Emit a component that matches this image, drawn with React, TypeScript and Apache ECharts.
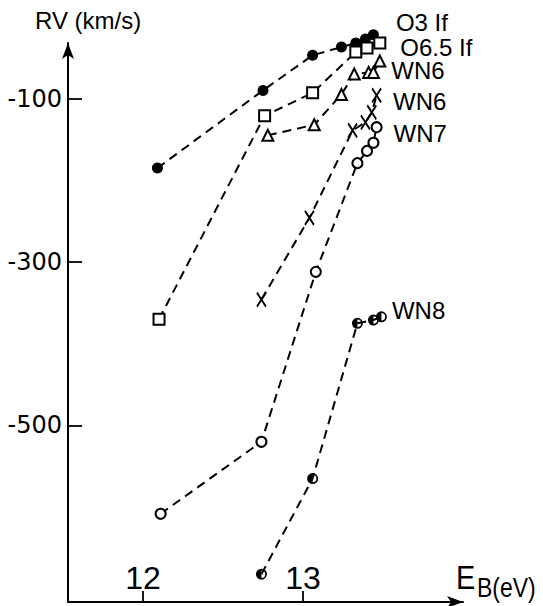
import React, { useEffect, useRef } from 'react';
import * as echarts from 'echarts';

// Data (E_B in eV, RV in km/s)
const o3IfE = [12.09, 12.75, 13.06, 13.24, 13.33, 13.39, 13.44];
const o3IfRV = [-185, -90, -47, -37, -32, -27, -22];
const o65IfE = [12.10, 12.76, 13.06, 13.33, 13.40, 13.48];
const o65IfRV = [-370, -121, -93, -43, -38, -32];
const wn6aE = [12.78, 13.07, 13.24, 13.32, 13.41, 13.44, 13.48];
const wn6aRV = [-145, -132, -95, -70, -68, -68, -54];
const wn6bE = [12.74, 13.04, 13.31, 13.39, 13.43, 13.46];
const wn6bRV = [-346, -246, -139, -129, -117, -96];
const wn7E = [12.11, 12.74, 13.08, 13.34, 13.40, 13.44, 13.46];
const wn7RV = [-608, -520, -312, -179, -164, -154, -135];
const wn8E = [12.74, 13.06, 13.34, 13.44, 13.49];
const wn8RV = [-682, -565, -375, -371, -367];
const seriesNames = ['O3 If', 'O6.5 If', 'WN6', 'WN6', 'WN7', 'WN8'];
const xTicks = [12, 13];
const yTicks = [-100, -300, -500];
const xTitleMain = 'E';
const xTitleSub = 'B(eV)';
const yTitle = 'RV (km/s)';

const X_PATH = 'path://M0 0L10 14M10 0L0 14';
const HALF_PATH =
  'path://M5 0A5 5 0 1 1 5 10A5 5 0 1 1 5 0ZM5 1.6A3.4 3.4 0 1 0 5 8.4A3.4 3.4 0 1 0 5 1.6ZM5 8.4A3.4 3.4 0 0 1 5 1.6Z';

const LABEL_FONT = '"Liberation Sans", Arial, sans-serif';

export default function App() {
  const ref = useRef<HTMLDivElement>(null);
  useEffect(() => {
    if (!ref.current) return;
    const chart = echarts.init(ref.current, null, { renderer: 'svg' });

    const styles = [
      { symbol: 'circle', size: 11, item: { color: '#000', borderWidth: 0 }, offset: [12, -12] },
      { symbol: 'rect', size: 11, item: { color: '#fff', borderColor: '#000', borderWidth: 2 }, offset: [9, 4] },
      { symbol: 'triangle', size: 11, item: { color: '#fff', borderColor: '#000', borderWidth: 2 }, offset: [0, 10] },
      { symbol: X_PATH, size: [9, 14], item: { color: 'none', borderColor: '#000', borderWidth: 2 }, offset: [5, 6] },
      { symbol: 'circle', size: 10, item: { color: '#fff', borderColor: '#000', borderWidth: 2 }, offset: [6, 6] },
      { symbol: HALF_PATH, size: 11, item: { color: '#000', borderWidth: 0 }, offset: [0, -6] },
    ];
    const Es = [o3IfE, o65IfE, wn6aE, wn6bE, wn7E, wn8E];
    const RVs = [o3IfRV, o65IfRV, wn6aRV, wn6bRV, wn7RV, wn8RV];

    const series = Es.map((E, s) => {
      const st = styles[s];
      const n = E.length;
      return {
        type: 'line',
        name: seriesNames[s],
        clip: false,
        symbol: st.symbol,
        symbolSize: st.size,
        showSymbol: true,
        itemStyle: st.item,
        lineStyle: { color: '#000', width: 2, type: [9, 6] },
        data: E.map((x, i) =>
          i === n - 1
            ? {
                value: [x, RVs[s][i]],
                label: {
                  show: true,
                  position: 'right',
                  distance: 5,
                  offset: st.offset,
                  formatter: seriesNames[s],
                  color: '#000',
                  fontSize: 24,
                  lineHeight: 20,
                  fontFamily: LABEL_FONT,
                },
              }
            : [x, RVs[s][i]]
        ),
      };
    });

    chart.setOption({
      animation: false,
      backgroundColor: '#fff',
      grid: { left: 68, right: 80, top: 43, bottom: 4, containLabel: false },
      xAxis: {
        type: 'value',
        min: 11.531,
        max: 14.0,
        axisLine: {
          show: true,
          symbol: ['none', 'arrow'],
          symbolSize: [9, 16],
          lineStyle: { color: '#000', width: 2 },
        },
        axisTick: { show: true, inside: true, length: 11, customValues: xTicks, lineStyle: { color: '#000', width: 1.8 } },
        axisLabel: {
          show: true,
          inside: true,
          margin: 8,
          customValues: xTicks,
          color: '#000',
          fontSize: 32,
          fontFamily: LABEL_FONT,
        },
        splitLine: { show: false },
      },
      yAxis: {
        type: 'value',
        min: -716,
        max: -32,
        axisLine: {
          show: true,
          symbol: ['none', 'arrow'],
          symbolSize: [9, 16],
          lineStyle: { color: '#000', width: 2 },
        },
        axisTick: { show: true, inside: true, length: 14, customValues: yTicks, lineStyle: { color: '#000', width: 1.8 } },
        axisLabel: {
          show: true,
          margin: 6,
          customValues: yTicks,
          color: '#000',
          fontSize: 24,
          fontFamily: '"DejaVu Sans", sans-serif',
        },
        splitLine: { show: false },
      },
      graphic: [
        {
          type: 'text',
          x: 35,
          y: 20,
          style: {
            text: yTitle,
            x: 0,
            y: 0,
            fill: '#000',
            fontSize: 24,
            fontFamily: LABEL_FONT,
            textVerticalAlign: 'middle',
            verticalAlign: 'middle',
          },
        },
        {
          type: 'text',
          x: 456,
          y: 577,
          scaleX: 0.85,
          style: {
            text: xTitleMain,
            x: 0,
            y: 0,
            fill: '#000',
            fontSize: 34,
            fontFamily: LABEL_FONT,
            textVerticalAlign: 'middle',
            verticalAlign: 'middle',
          },
        },
        {
          type: 'text',
          x: 477,
          y: 587,
          scaleX: 0.82,
          style: {
            text: xTitleSub,
            x: 0,
            y: 0,
            fill: '#000',
            fontSize: 28,
            fontFamily: LABEL_FONT,
            textVerticalAlign: 'middle',
            verticalAlign: 'middle',
          },
        },
      ],
      series,
    });
    return () => chart.dispose();
  }, []);
  return (
    <div
      ref={ref}
      style={{ position: 'absolute', left: 0, top: 0, width: 543, height: 606, background: '#fff' }}
    />
  );
}
